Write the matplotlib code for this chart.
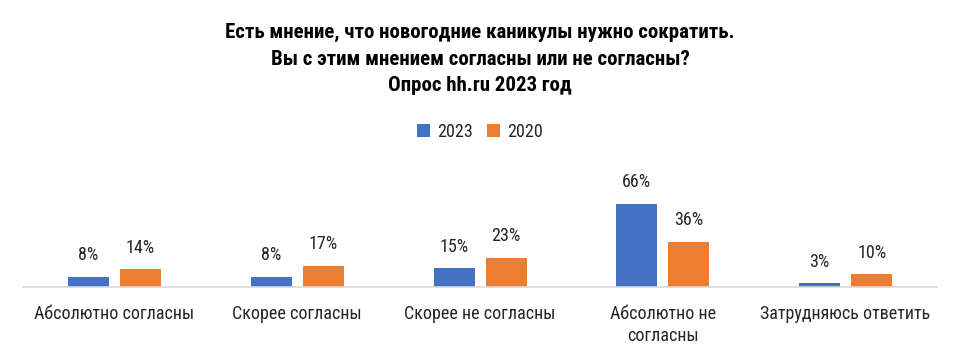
import matplotlib.pyplot as plt
from matplotlib import font_manager
import numpy as np

categories = ['Абсолютно согласны', 'Скорее согласны', 'Скорее не согласны',
              'Абсолютно не\nсогласны', 'Затрудняюсь ответить']
years = ['2023', '2020']
values_2023 = [8, 8, 15, 66, 3]
values_2020 = [14, 17, 23, 36, 10]
title = ('Есть мнение, что новогодние каникулы нужно сократить.\n'
         'Вы с этим мнением согласны или не согласны?\n'
         'Опрос hh.ru 2023 год')

blue = '#4472C4'
orange = '#ED7D31'

# pick a narrow font if one is installed
names = {f.name for f in font_manager.fontManager.ttflist}
narrow = None
for n in ['Roboto Condensed', 'Liberation Sans Narrow', 'Arial Narrow',
          'Open Sans Condensed', 'DejaVu Sans Condensed']:
    if n in names:
        narrow = n
        break
stretched = False
if narrow is None:
    cond = [f for f in font_manager.fontManager.ttflist
            if 'condensed' in str(f.stretch).lower() or
            (isinstance(f.stretch, int) and f.stretch < 500)]
    if cond:
        narrow = cond[0].name
        stretched = True
if narrow is None:
    narrow = 'Liberation Sans'
    scale = 0.85
else:
    scale = 1.0
plt.rcParams['font.family'] = [narrow, 'DejaVu Sans']
if stretched:
    plt.rcParams['font.stretch'] = 'condensed'

fs = 13 * scale
fig = plt.figure(figsize=(9.6, 3.51), dpi=100)
ax = fig.add_axes([23/960, 64/351, 914/960, 100.8/351])

x = np.arange(len(categories))
w = 0.224
b1 = ax.bar(x - 0.142, values_2023, w, color=blue, label=years[0])
b2 = ax.bar(x + 0.143, values_2020, w, color=orange, label=years[1])

for bars, vals in ((b1, values_2023), (b2, values_2020)):
    for r, v in zip(bars, vals):
        ax.annotate(f'{v}%', (r.get_x() + r.get_width()/2, v),
                    xytext=(0, 15.5), textcoords='offset points',
                    ha='center', va='center', fontsize=fs, color='#262626',
                    annotation_clip=False)

ax.set_xlim(-0.5, len(categories) - 0.5)
ax.set_ylim(0, 80)
ax.set_yticks([])
for s in ['top', 'right', 'left']:
    ax.spines[s].set_visible(False)
ax.spines['bottom'].set_color('#D9D9D9')
ax.spines['bottom'].set_linewidth(1.2)
ax.set_xticks(x)
ax.set_xticklabels(categories, fontsize=fs, color='#262626', va='top',
                   linespacing=1.25)
ax.tick_params(axis='x', length=0, pad=13)

fig.text(0.5, 1 - 23/351, title, ha='center', va='top', fontsize=15 * scale,
         fontweight='bold', linespacing=1.5 / scale, color='#000000')

fig.legend(loc='center', bbox_to_anchor=(480/960, 1 - 132/351), ncol=2,
           frameon=False, fontsize=fs, handlelength=0.7, handleheight=0.7,
           handletextpad=0.4, columnspacing=0.8, labelcolor='#262626')

fig.savefig('out.png', dpi=100)
